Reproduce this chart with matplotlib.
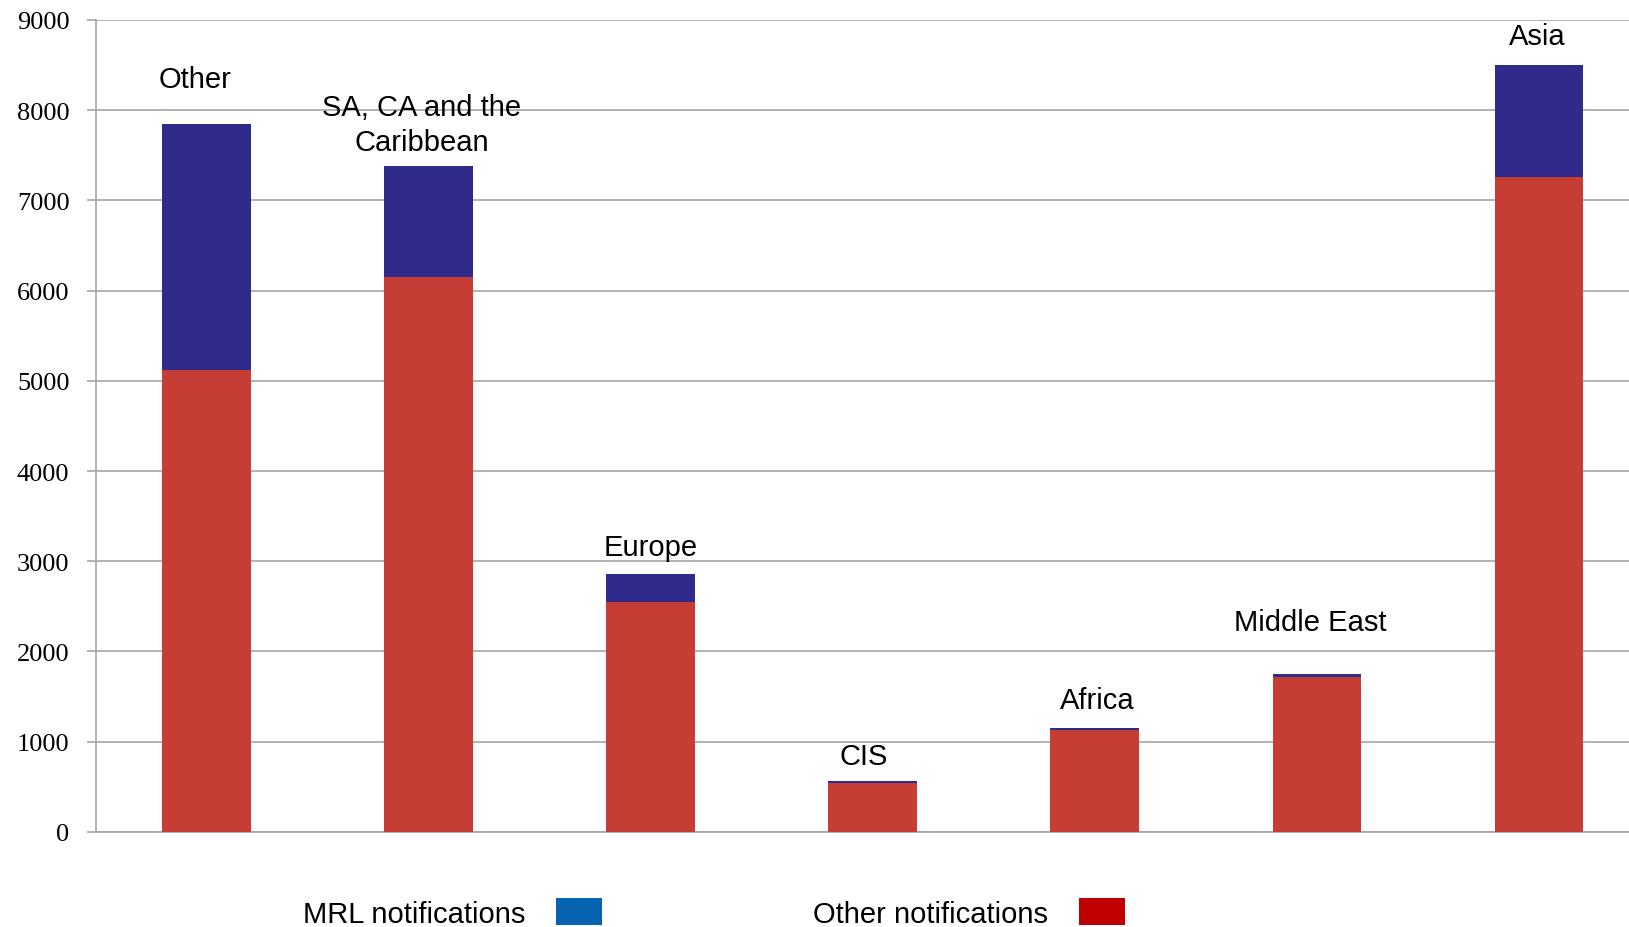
import matplotlib
matplotlib.use("Agg")
import matplotlib.pyplot as plt
from matplotlib.patches import Patch

# ---- data ----
regions = ["Other", "SA, CA and the\nCaribbean", "Europe", "CIS", "Africa", "Middle East", "Asia"]
other_notifications = [5120, 6150, 2545, 545, 1130, 1715, 7255]
mrl_notifications = [2730, 1225, 310, 15, 18, 32, 1240]
y_ticks = [0, 1000, 2000, 3000, 4000, 5000, 6000, 7000, 8000, 9000]
legend_labels = ["MRL notifications", "Other notifications"]

# ---- style ----
bar_red = "#C63D36"
bar_navy = "#302B8A"
legend_blue = "#0563B0"
legend_red = "#C00000"
grid_col = "#A6A6A6"
label_dx = [-0.05, -0.03, 0.0, -0.04, 0.01, -0.03, -0.01]   # label x shift (category units)
label_dy = [490, 460, 300, 280, 315, 580, 320]             # label gap above bar top

fig = plt.figure(figsize=(16.29, 9.28), dpi=100)
ax = fig.add_axes([95.6 / 1629, 0.1024, (1650 - 95.6) / 1629, 0.8752])

x = list(range(len(regions)))
ax.bar(x, other_notifications, width=0.4, color=bar_red, linewidth=0, zorder=3)
ax.bar(x, mrl_notifications, width=0.4, bottom=other_notifications,
       color=bar_navy, linewidth=0, zorder=3)

for i, name in enumerate(regions):
    top = other_notifications[i] + mrl_notifications[i]
    ax.text(i + label_dx[i], top + label_dy[i], name, ha="center", va="center",
            fontsize=21, family="Liberation Sans", color="black",
            linespacing=1.32)

ax.set_xlim(-0.5, 6.5)
ax.set_ylim(0, 9000)
ax.set_yticks(y_ticks)
ax.set_yticklabels([str(v) for v in y_ticks], family="Liberation Serif", fontsize=19)
ax.set_xticks([])
ax.yaxis.grid(True, color=grid_col, linewidth=1.2, zorder=0)
ax.set_axisbelow(True)
ax.tick_params(axis="y", length=6.3, width=1.2, color=grid_col, pad=12.5)
for s in ["top", "right"]:
    ax.spines[s].set_visible(False)
for s in ["left", "bottom"]:
    ax.spines[s].set_color(grid_col)
    ax.spines[s].set_linewidth(1.2)

handles = [Patch(facecolor=legend_blue, edgecolor="none"),
           Patch(facecolor=legend_red, edgecolor="none")]
fig.legend(handles, legend_labels, loc="center left",
           bbox_to_anchor=(303 / 1629, 1 - 914 / 928), bbox_transform=fig.transFigure,
           ncol=2, frameon=False, markerfirst=False,
           prop={"family": "Liberation Sans", "size": 21.0},
           handlelength=1.57, handleheight=1.06, handletextpad=1.05,
           columnspacing=7.25, borderpad=0, borderaxespad=0)

fig.savefig("out.png", dpi=100)
